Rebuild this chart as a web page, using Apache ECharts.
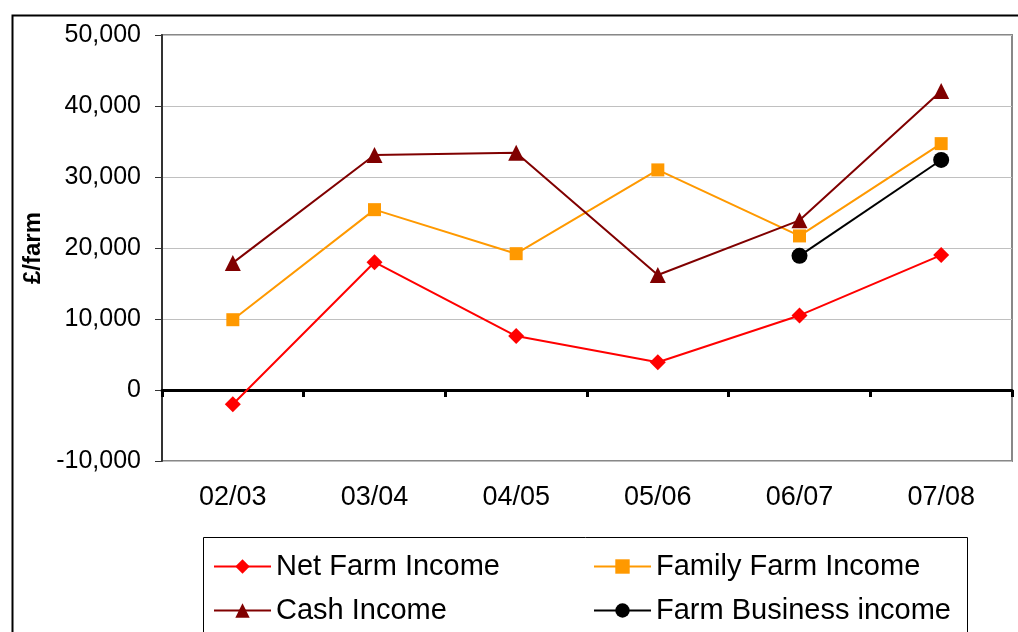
<!DOCTYPE html>
<html>
<head>
<meta charset="utf-8">
<script src="https://cdn.jsdelivr.net/npm/echarts@6/dist/echarts.min.js"></script>
<style>
  html, body { margin: 0; padding: 0; background: #fff; }
  #main { width: 1018px; height: 632px; }
</style>
</head>
<body>
<div id="main"></div>
<script>
// data
var years = ['02/03', '03/04', '04/05', '05/06', '06/07', '07/08'];
var netFarm = [-2000, 18000, 7600, 3900, 10500, 19000];
var familyFarm = [9900, 25400, 19200, 31000, 21700, 34700];
var cashIncome = [17900, 33100, 33400, 16200, 23900, 42100];
var farmBusiness = ['-', '-', '-', '-', 18900, 32400];
var yTicks = { min: -10000, max: 50000, step: 10000 };

var font = '"Liberation Sans", Arial, sans-serif';

function fmt(v) {
  var s = Math.abs(v).toString().replace(/\B(?=(\d{3})+(?!\d))/g, ',');
  return (v < 0 ? '-' : '') + s;
}

var myChart = echarts.init(document.getElementById('main'));

var option = {
  backgroundColor: '#fff',
  animation: false,
  textStyle: { fontFamily: font },
  grid: {
    left: 162,
    right: 6,
    top: 35,
    bottom: 171,
    show: true,
    borderColor: '#888',
    borderWidth: 2,
    backgroundColor: '#fff'
  },
  graphic: [
    { type: 'rect', left: 10, top: 13, shape: { width: 1100, height: 700 },
      style: { fill: 'none', stroke: '#000', lineWidth: 2 }, silent: true, z: -1 },
    { type: 'rect', left: 203, top: 537, shape: { width: 764, height: 200 },
      style: { fill: '#fff', stroke: '#000', lineWidth: 1 }, silent: true, z: -1 }
  ],
  legend: [{
    data: ['Net Farm Income', 'Cash Income'],
    orient: 'vertical',
    left: 208,
    top: 547,
    itemWidth: 57,
    itemHeight: 18,
    itemGap: 15,
    textStyle: { fontSize: 29, color: '#000', fontFamily: font }
  }, {
    data: ['Family Farm Income', 'Farm Business income'],
    orient: 'vertical',
    left: 588,
    top: 547,
    itemWidth: 57,
    itemHeight: 18,
    itemGap: 15,
    textStyle: { fontSize: 29, color: '#000', fontFamily: font }
  }],
  xAxis: [{
    type: 'category',
    data: years,
    position: 'bottom',
    axisLine: { show: false, onZero: false },
    axisTick: { show: false },
    axisLabel: { fontSize: 27, color: '#000', margin: 23 },
    splitLine: { show: false }
  }, {
    type: 'category',
    data: years,
    position: 'top',
    axisLine: { show: true, onZero: true, lineStyle: { color: '#000', width: 3 } },
    axisTick: { show: true, inside: true, length: 7, lineStyle: { color: '#000', width: 3 } },
    axisLabel: { show: false },
    splitLine: { show: false }
  }],
  yAxis: {
    type: 'value',
    min: yTicks.min,
    max: yTicks.max,
    interval: yTicks.step,
    name: '£/farm',
    nameLocation: 'middle',
    nameGap: 109,
    nameTextStyle: { fontSize: 24, fontWeight: 'bold', color: '#000' },
    axisLine: { show: true, lineStyle: { color: '#333', width: 2 } },
    axisTick: { show: true, length: 7, lineStyle: { color: '#333' } },
    axisLabel: { fontSize: 25, color: '#000', margin: 21, formatter: fmt },
    splitLine: { show: true, lineStyle: { color: '#c0c0c0', width: 1 } }
  },
  series: [{
    name: 'Net Farm Income',
    type: 'line',
    data: netFarm,
    symbol: 'diamond',
    symbolSize: 16,
    lineStyle: { color: '#ff0000', width: 2 },
    itemStyle: { color: '#ff0000' }
  }, {
    name: 'Family Farm Income',
    type: 'line',
    data: familyFarm,
    symbol: 'rect',
    symbolSize: 13,
    lineStyle: { color: '#ff9900', width: 2 },
    itemStyle: { color: '#ff9900' }
  }, {
    name: 'Cash Income',
    type: 'line',
    data: cashIncome,
    symbol: 'triangle',
    symbolSize: 16,
    lineStyle: { color: '#800000', width: 2 },
    itemStyle: { color: '#800000' }
  }, {
    name: 'Farm Business income',
    type: 'line',
    data: farmBusiness,
    symbol: 'circle',
    symbolSize: 16,
    lineStyle: { color: '#000', width: 2 },
    itemStyle: { color: '#000' }
  }]
};

myChart.setOption(option);
</script>
</body>
</html>
